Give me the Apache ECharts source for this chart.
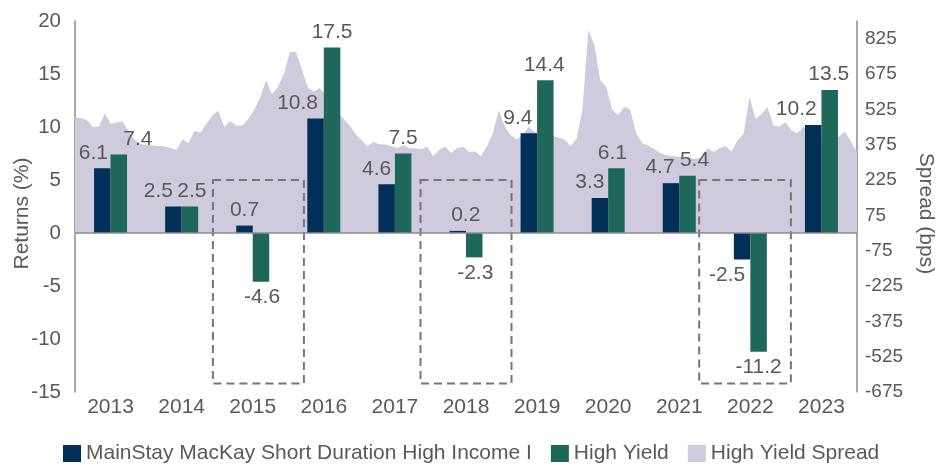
<!DOCTYPE html>
<html><head><meta charset="utf-8">
<script src="https://cdn.jsdelivr.net/npm/echarts@6/dist/echarts.min.js"></script>
<style>html,body{margin:0;padding:0;background:#fff}#c{width:936px;height:466px}</style>
</head><body><div id="c"></div>
<script>
const years = ['2013','2014','2015','2016','2017','2018','2019','2020','2021','2022','2023'];
const mainstay = [6.1, 2.5, 0.7, 10.8, 4.6, 0.2, 9.4, 3.3, 4.7, -2.5, 10.2];
const highYield = [7.4, 2.5, -4.6, 17.5, 7.5, -2.3, 14.4, 6.1, 5.4, -11.2, 13.5];
const spread = [
  488,488,480,450,452,507,463,469,473,429,
  395,378,374,371,369,367,361,352,397,382,
  433,427,463,499,520,450,475,456,454,484,
  522,573,649,590,620,677,768,768,696,618,
  601,616,586,543,509,484,456,420,395,369,
  386,377,376,369,361,374,360,360,357,365,
  327,352,366,341,360,366,344,346,327,367,
  425,522,450,416,397,416,450,429,420,416,
  412,405,397,369,399,522,862,798,649,620,
  522,501,535,524,425,382,371,357,340,331,
  327,324,323,318,314,323,360,344,361,369,
  346,395,420,577,484,505,535,456,452,471,
  437,423,450,437,429,408,403,399,410,431,
  386,344
];
const spreadMonths = [];
for (let y = 2013; y <= 2023; y++) for (let m = 1; m <= 12; m++) spreadMonths.push(y + '-' + String(m).padStart(2, '0'));
// highlight boxes: [from (year index), to (year index), top return, bottom return]
const highlightBoxes = [[1.44, 2.72, 5, -14.2], [4.36, 5.64, 5, -14.2], [8.28, 9.57, 5, -14.2]];
const returnAxis = { min: -15, max: 20, step: 5 };
const spreadAxis = { min: -675, max: 900, step: 150 };

// label nudges (px), styling only
const navyDx = [-9, -15, 0, -18, -10, 8, -11, -10, -11, -15, -17];
const greenDx = [19, 2, 1, 0, 0, 1, -1, -4, 7, 0, -1];

const FONT = 'Liberation Sans, Arial, Helvetica, sans-serif';
const TXT = '#595959';
const NAVY = '#003057', GREEN = '#1f675b', LAV = '#cfcbdd';

function barData(vals, dx) {
  return vals.map((v, i) => ({
    value: v,
    label: { position: v < 0 ? 'bottom' : 'top', offset: [dx[i], 0] }
  }));
}

const chart = echarts.init(document.getElementById('c'), null, { renderer: 'canvas' });
chart.setOption({
  animation: false,
  textStyle: { fontFamily: FONT },
  grid: { left: 75, right: 79, top: 21, bottom: 74, containLabel: false, outerBoundsMode: 'none' },
  legend: {
    left: 63, top: 443, padding: 0, itemWidth: 18, itemHeight: 17, itemGap: 19, icon: 'rect',
    textStyle: { fontSize: 21, color: TXT, fontFamily: FONT },
    data: ['MainStay MacKay Short Duration High Income I', 'High Yield', 'High Yield Spread']
  },
  xAxis: [
    { type: 'category', data: years, axisLine: { show: false }, axisTick: { show: false },
      axisLabel: { fontSize: 21, color: TXT, margin: 5, fontFamily: FONT }, splitLine: { show: false } },
    { type: 'category', data: spreadMonths, boundaryGap: false, show: false },
    { type: 'value', min: -0.5, max: 10.5, show: false }
  ],
  yAxis: [
    { type: 'value', min: returnAxis.min, max: returnAxis.max, interval: returnAxis.step,
      name: 'Returns (%)', nameLocation: 'middle', nameGap: 42, nameMoveOverlap: false,
      nameTextStyle: { fontSize: 21, color: TXT, fontFamily: FONT, padding: [0, 14, 0, 0] },
      axisLine: { show: true, onZero: false, lineStyle: { color: '#8c8c8c', width: 1.5 } }, axisTick: { show: false },
      axisLabel: { fontSize: 20.5, color: TXT, margin: 14, fontFamily: FONT }, splitLine: { show: false } },
    { type: 'value', position: 'right', min: spreadAxis.min, max: spreadAxis.max, interval: spreadAxis.step,
      name: 'Spread (bps)', nameLocation: 'middle', nameGap: 58, nameRotate: -90, nameMoveOverlap: false,
      nameTextStyle: { fontSize: 21, color: TXT, fontFamily: FONT, padding: [0, 0, 0, 14] },
      axisLine: { show: true, onZero: false, lineStyle: { color: '#8c8c8c', width: 1.5 } }, axisTick: { show: false },
      axisLabel: { fontSize: 19, color: TXT, margin: 8, showMaxLabel: false, fontFamily: FONT }, splitLine: { show: false } }
  ],
  series: [
    { name: 'High Yield Spread', type: 'line', xAxisIndex: 1, yAxisIndex: 1, data: spread,
      symbol: 'none', lineStyle: { width: 0 }, itemStyle: { color: LAV },
      areaStyle: { color: LAV, opacity: 1 }, z: 1, silent: true },
    { name: 'MainStay MacKay Short Duration High Income I', type: 'bar', xAxisIndex: 0, yAxisIndex: 0,
      data: barData(mainstay, navyDx), barWidth: 16.5, barGap: '0%', itemStyle: { color: NAVY }, z: 3,
      label: { show: true, fontSize: 21, color: TXT, fontFamily: FONT, distance: 5 },
      markLine: { silent: true, symbol: 'none', label: { show: false },
        lineStyle: { color: '#8c8c8c', width: 1.5, type: 'solid' }, data: [{ yAxis: 0 }] } },
    { name: 'High Yield', type: 'bar', xAxisIndex: 0, yAxisIndex: 0,
      data: barData(highYield, greenDx), barWidth: 16.5, barGap: '0%', itemStyle: { color: GREEN }, z: 3,
      label: { show: true, fontSize: 21, color: TXT, fontFamily: FONT, distance: 5 } },
    { type: 'custom', xAxisIndex: 2, yAxisIndex: 0, data: highlightBoxes, silent: true, z: 4, clip: false,
      encode: { x: [0, 1], y: [2, 3] },
      renderItem: function (params, api) {
        const p0 = api.coord([api.value(0), api.value(2)]);
        const p1 = api.coord([api.value(1), api.value(3)]);
        return { type: 'rect', shape: { x: p0[0], y: p0[1], width: p1[0] - p0[0], height: p1[1] - p0[1] },
          style: { fill: 'none', stroke: '#767676', lineWidth: 2, lineDash: [8, 5] } };
      } }
  ]
});
</script></body></html>
